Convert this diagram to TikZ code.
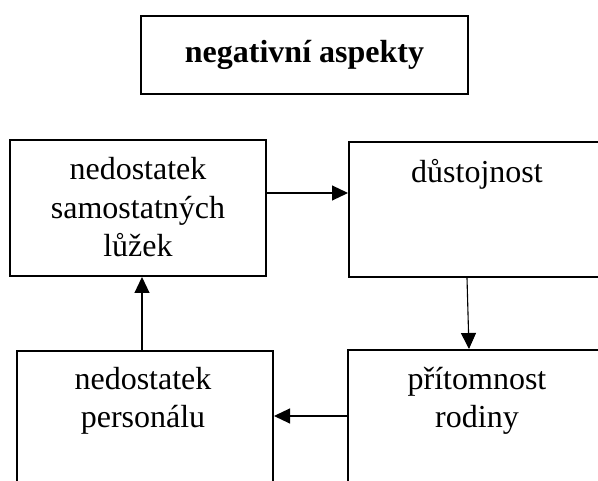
\documentclass[tikz,border=0pt]{standalone}
\usepackage{fontspec}
\setmainfont{Liberation Serif}
\usetikzlibrary{arrows.meta}
\begin{document}
\begin{tikzpicture}[x=1pt,y=-1pt,
  box/.style={draw, line width=2pt, rectangle, inner sep=0pt},
  lbl/.style={font=\fontsize{32}{38.5}\selectfont, anchor=base, inner sep=0pt},
  link/.style={line width=1.1pt, -{Triangle[length=16pt,width=15pt]}}]
\useasboundingbox (0,0) rectangle (598,481);
\clip (0,0) rectangle (598,481);

% title
\node[box, minimum width=327pt, minimum height=78pt,
      font=\fontsize{32}{38.5}\selectfont\bfseries] (title) at (304.5,55) {negativní aspekty};

% the four boxes of the cycle
\node[box, minimum width=256pt, minimum height=136pt] (b1) at (138,208) {};
\node[box, minimum width=291pt, minimum height=135pt] (b2) at (494.5,209.5) {};
\node[box, minimum width=256pt, minimum height=179pt] (b3) at (145,440.5) {};
\node[box, minimum width=292pt, minimum height=180pt] (b4) at (494,440) {};

% box texts
\node[lbl] (b1a) at (138,180) {nedostatek};
\node[lbl] (b1b) at (138,219) {samostatných};
\node[lbl] (b1c) at (138,257) {lůžek};
\node[lbl] (b2a) at (477,183) {důstojnost};
\node[lbl] (b4a) at (477,390) {přítomnost};
\node[lbl] (b4b) at (477,428) {rodiny};
\node[lbl] (b3a) at (143,390) {nedostatek};
\node[lbl] (b3b) at (143,428) {personálu};

% connectors
\draw[link] ([yshift=15pt]b1.east) -- ([yshift=16.5pt]b2.west);
\draw[link] ([xshift=-27.5pt]b2.south) -- ([xshift=-25pt]b4.north);
\draw[link] ([yshift=24pt]b4.west) -- ([yshift=24.5pt]b3.east);
\draw[link] ([xshift=-3pt]b3.north) -- ([xshift=4pt]b1.south);
\end{tikzpicture}
\end{document}
